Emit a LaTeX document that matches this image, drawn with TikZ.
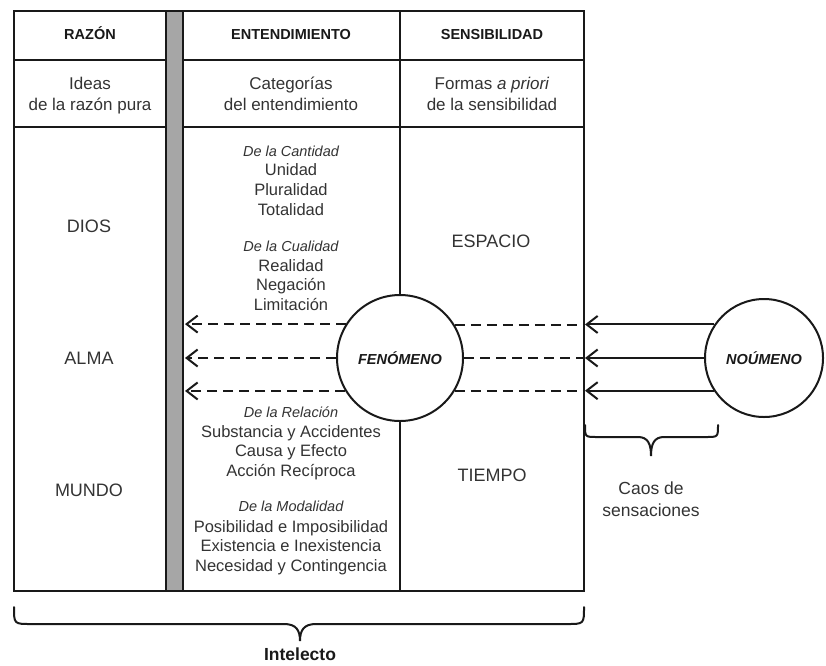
\documentclass[tikz,border=0pt]{standalone}
\usepackage{fontspec}
\setmainfont{Liberation Sans}
\usetikzlibrary{arrows.meta}
\begin{document}
\begin{tikzpicture}[x=1pt,y=-1pt,
  rule/.style={line width=2pt,draw=black!90},
  hdr/.style={font=\fontsize{14.5}{17}\selectfont\bfseries,anchor=base,inner sep=0pt,text=black!90},
  subhd/.style={font=\fontsize{17}{20}\selectfont,anchor=base,inner sep=0pt,text=black!80},
  biglbl/.style={font=\fontsize{18}{21}\selectfont,anchor=base,inner sep=0pt,text=black!80},
  cattitle/.style={font=\fontsize{14.5}{17}\selectfont\itshape,anchor=base,inner sep=0pt,text=black!80},
  catitem/.style={font=\fontsize{16.5}{19}\selectfont,anchor=base,inner sep=0pt,text=black!80},
  orb/.style={circle,draw=black!90,line width=2pt,fill=white,inner sep=0pt,
    font=\fontsize{14.5}{17}\selectfont\bfseries\itshape,text=black!90},
  ray/.style={line width=2pt,draw=black!90,-{Straight Barb[length=11pt,width=17pt]}},
  dashray/.style={ray,dash pattern=on 10pt off 6pt},
  dashline/.style={line width=2pt,draw=black!90,dash pattern=on 10pt off 6pt},
  bracepath/.style={line width=2pt,draw=black!90,line cap=round},
]
\useasboundingbox (0,0) rectangle (826,665);

% table frame and rules
\draw[rule] (14,11) rectangle (584,591);
\draw[rule] (14,60) -- (584,60);
\draw[rule] (14,127) -- (584,127);
\draw[rule] (400,11) -- (400,591);
% grey separator between reason and understanding
\filldraw[rule,fill=black!35] (166,11) rectangle (183,591);

% column headers
\node[hdr] (hRazon) at (90,39.5) {RAZÓN};
\node[hdr] (hEnt) at (291,39.5) {ENTENDIMIENTO};
\node[hdr] (hSens) at (492,39.5) {SENSIBILIDAD};

% second row
\node[subhd] (sRaz1) at (90,89) {Ideas};
\node[subhd] (sRaz2) at (90,110) {de la razón pura};
\node[subhd] (sEnt1) at (291,89) {Categorías};
\node[subhd] (sEnt2) at (291,110) {del entendimiento};
\node[subhd] (sSen1) at (492,89) {Formas \textit{a priori}};
\node[subhd] (sSen2) at (492,110) {de la sensibilidad};

% ideas of pure reason
\node[biglbl] (dios) at (89,232.5) {DIOS};
\node[biglbl] (alma) at (89,364.5) {ALMA};
\node[biglbl] (mundo) at (89,496.5) {MUNDO};

% forms of sensibility
\node[biglbl] (espacio) at (491,247.5) {ESPACIO};
\node[biglbl] (tiempo) at (492,481.5) {TIEMPO};

% categories of the understanding
\node[cattitle] (cant) at (291,156) {De la Cantidad};
\node[catitem] (c1) at (291,175) {Unidad};
\node[catitem] (c2) at (291,195) {Pluralidad};
\node[catitem] (c3) at (291,215) {Totalidad};
\node[cattitle] (cual) at (291,251) {De la Cualidad};
\node[catitem] (q1) at (291,271) {Realidad};
\node[catitem] (q2) at (291,290) {Negación};
\node[catitem] (q3) at (291,310) {Limitación};
\node[cattitle] (rel) at (291,417) {De la Relación};
\node[catitem] (r1) at (291,437) {Substancia y Accidentes};
\node[catitem] (r2) at (291,456) {Causa y Efecto};
\node[catitem] (r3) at (291,476) {Acción Recíproca};
\node[cattitle] (moda) at (291,511) {De la Modalidad};
\node[catitem] (m1) at (291,532) {Posibilidad e Imposibilidad};
\node[catitem] (m2) at (291,551) {Existencia e Inexistencia};
\node[catitem] (m3) at (291,571) {Necesidad y Contingencia};

% phenomenon and noumenon
\node[orb,minimum size=126pt] (fen) at (400,358) {FENÓMENO};
\node[orb,minimum size=118pt] (nou) at (764,358) {NOÚMENO};

% where the rays end
\coordinate (sensEdge) at (585,0);
\coordinate (barEdge) at (185,0);

% affection of sensibility by the noumenon
\draw[ray] (nou.146.63) -- (nou.146.63 -| sensEdge);
\draw[ray] (nou.west) -- (nou.west -| sensEdge);
\draw[ray] (nou.213.37) -- (nou.213.37 -| sensEdge);

% dashed continuation through the phenomenon
\draw[dashline] (fen.31.04) -- (fen.31.04 -| sensEdge);
\draw[dashline] (fen.east) -- (fen.east -| sensEdge);
\draw[dashline] (fen.-31.04) -- (fen.-31.04 -| sensEdge);
\draw[dashray] (fen.148.96) -- (fen.148.96 -| barEdge);
\draw[dashray] (fen.west) -- (fen.west -| barEdge);
\draw[dashray] (fen.211.04) -- (fen.211.04 -| barEdge);

% brace under the rays
\draw[bracepath] (585,425) .. controls (585,437) .. (597,437) -- (638,437)
  .. controls (648,437) and (651,444) .. (651,456)
  .. controls (651,444) and (654,437) .. (664,437) -- (706,437)
  .. controls (718,437) .. (718,425);
\node[subhd,font=\fontsize{17.5}{20}\selectfont] (caos1) at (651,494.5) {Caos de};
\node[subhd,font=\fontsize{17.5}{20}\selectfont] (caos2) at (651,516.5) {sensaciones};

% brace under the whole table
\draw[bracepath] (14,607) .. controls (14,624) .. (31,624) -- (284,624)
  .. controls (296,624) and (300,630) .. (300,641)
  .. controls (300,630) and (304,624) .. (316,624) -- (567,624)
  .. controls (584,624) .. (584,607);
\node[hdr,font=\fontsize{17.5}{20}\selectfont\bfseries] (intelecto) at (300,660) {Intelecto};
\end{tikzpicture}
\end{document}
